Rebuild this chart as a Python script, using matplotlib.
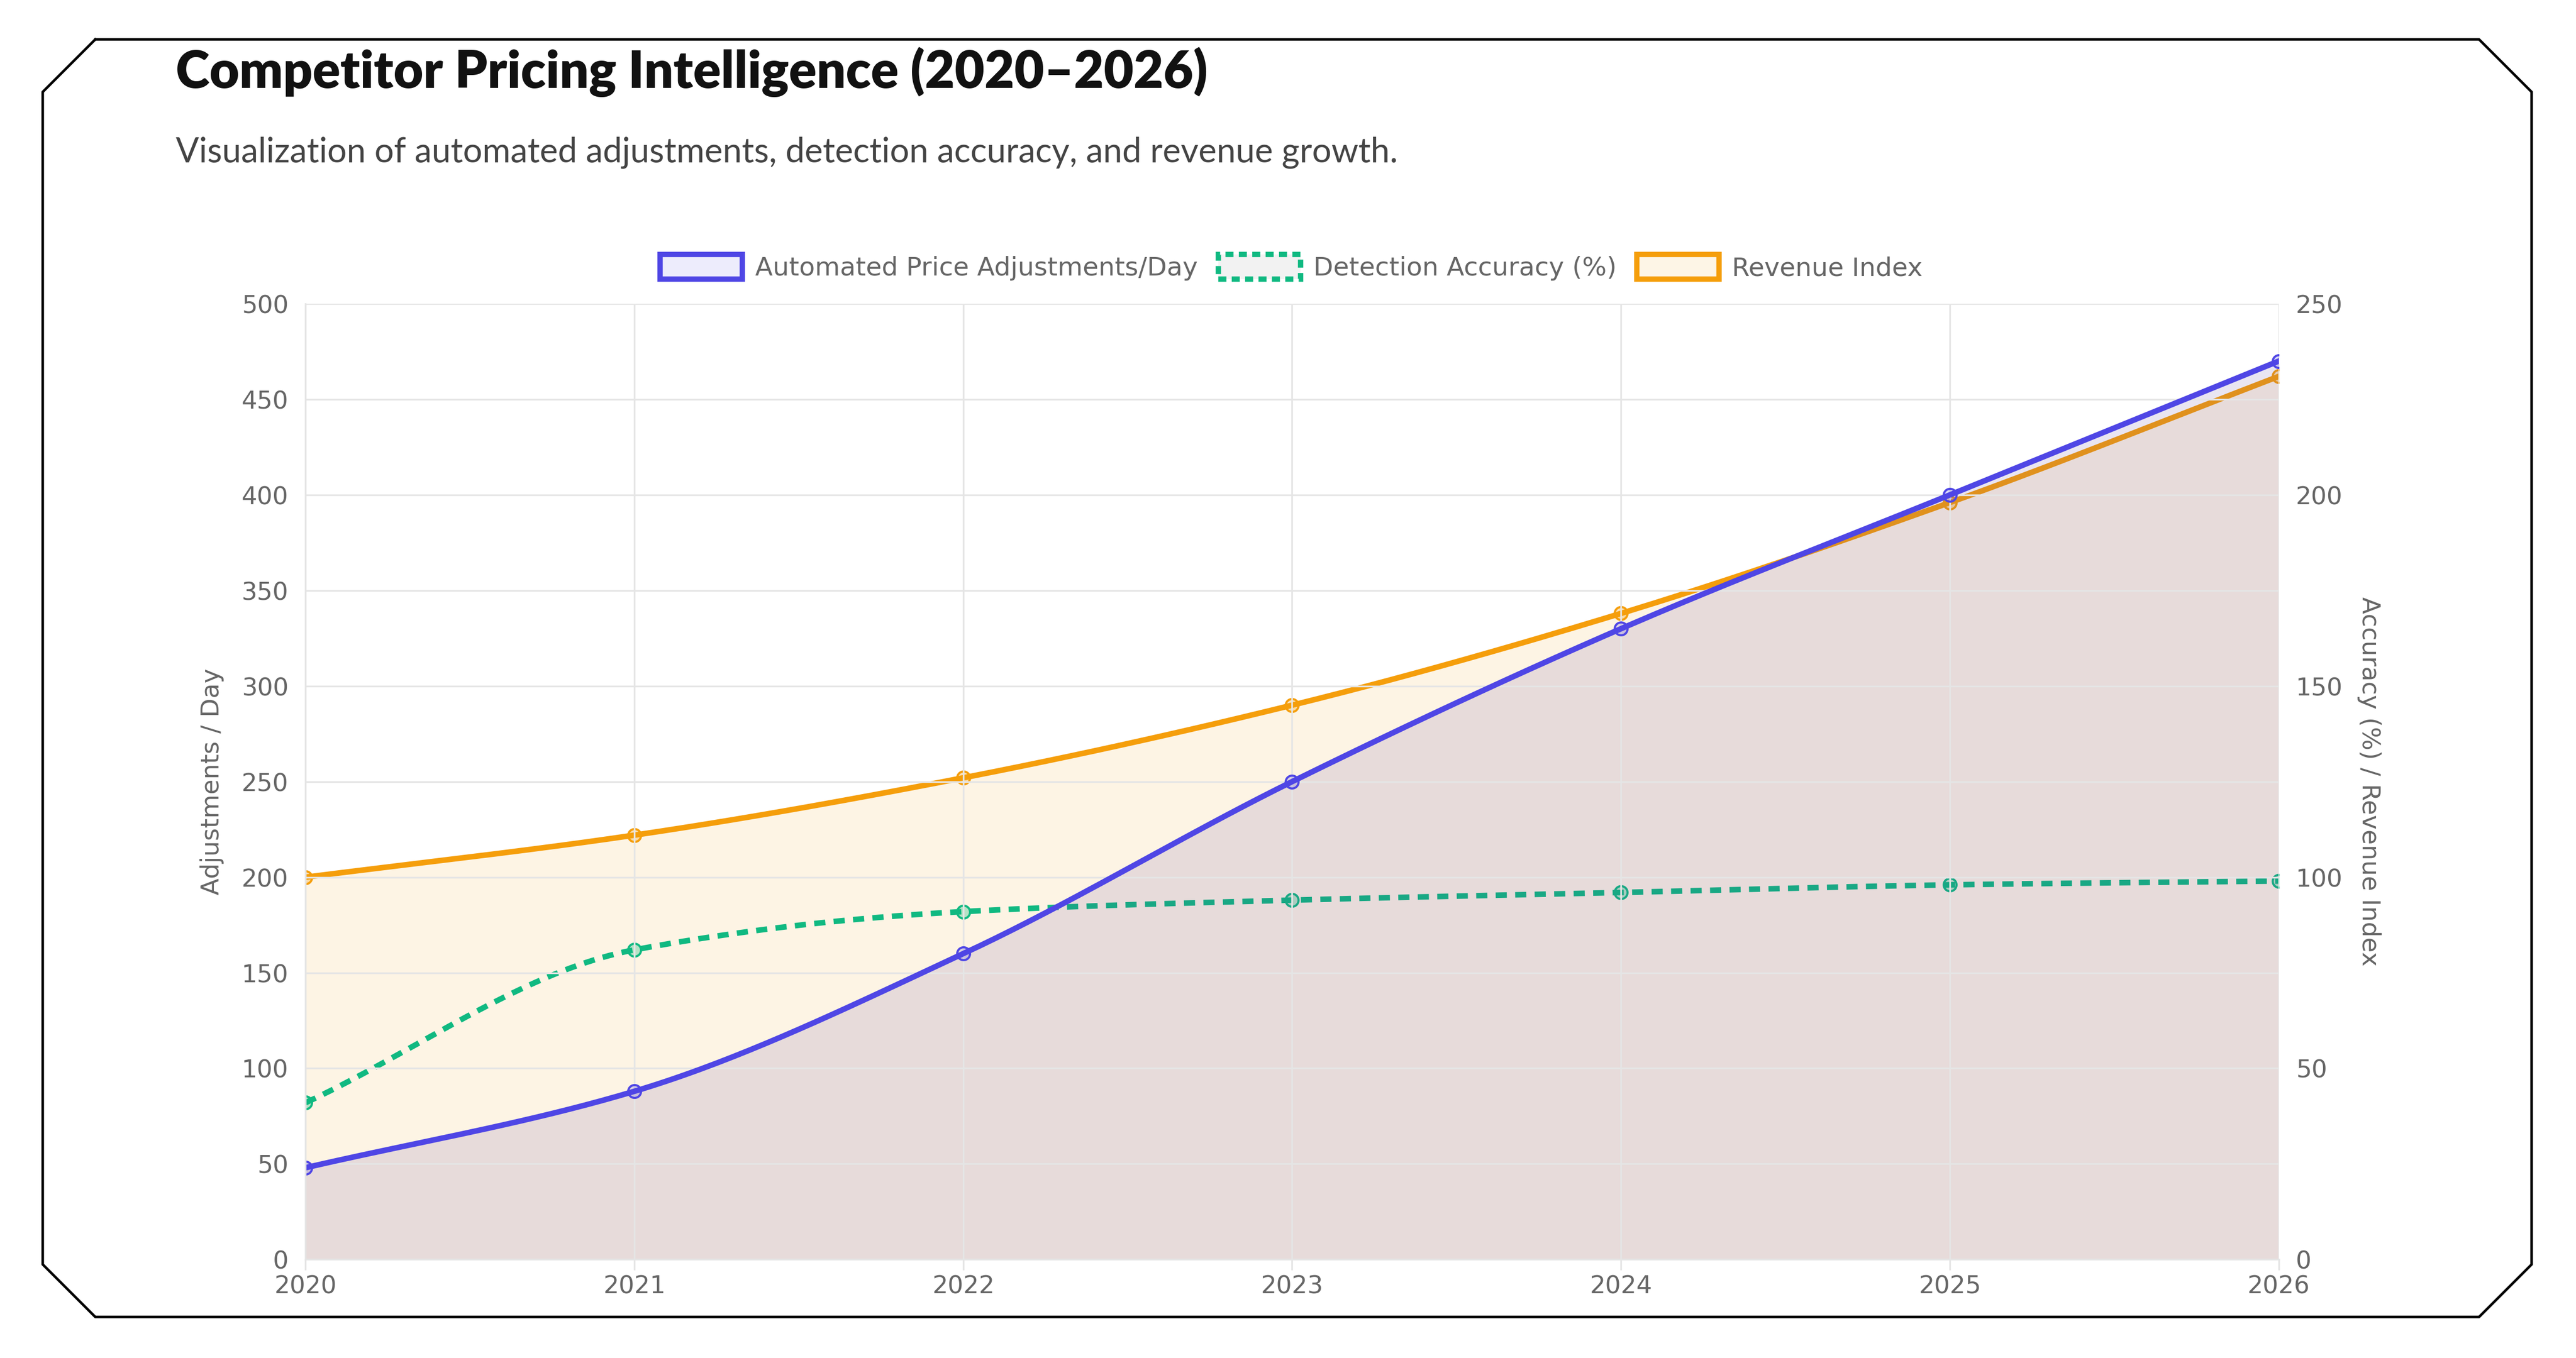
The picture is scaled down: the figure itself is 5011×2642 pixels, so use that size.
import numpy as np
import matplotlib.pyplot as plt
from matplotlib.lines import Line2D
from matplotlib.patches import Patch

years = [2020, 2021, 2022, 2023, 2024, 2025, 2026]
adjustments = [48, 88, 160, 250, 330, 400, 470]
accuracy = [41, 81, 91, 94, 96, 98, 99]
revenue = [100, 111, 126, 145, 169, 198, 231]

W, H = 1568.0, 827.0


def smooth(xs, ys, n=40):
    # monotone cubic (Fritsch-Carlson) for drawing only
    xs = np.asarray(xs, float)
    ys = np.asarray(ys, float)
    h = np.diff(xs)
    d = np.diff(ys) / h
    m = np.zeros_like(ys)
    m[0], m[-1] = d[0], d[-1]
    for i in range(1, len(ys) - 1):
        m[i] = 0 if d[i - 1] * d[i] <= 0 else 2 / (1 / d[i - 1] + 1 / d[i])
    outx, outy = [], []
    for i in range(len(h)):
        t = np.linspace(0, 1, n, endpoint=(i == len(h) - 1))
        h00 = 2 * t**3 - 3 * t**2 + 1
        h10 = t**3 - 2 * t**2 + t
        h01 = -2 * t**3 + 3 * t**2
        h11 = t**3 - t**2
        outx.extend(xs[i] + t * h[i])
        outy.extend(h00 * ys[i] + h10 * h[i] * m[i] + h01 * ys[i + 1] + h11 * h[i] * m[i + 1])
    return np.array(outx), np.array(outy)


fig = plt.figure(figsize=(5011 / 300, 2642 / 300), dpi=300)

# octagonal frame
c = 32
x0, x1, y0, y1 = 26, 1541, 24, 802
pts = [(x0 + c, y0), (x1 - c, y0), (x1, y0 + c), (x1, y1 - c), (x1 - c, y1),
       (x0 + c, y1), (x0, y1 - c), (x0, y0 + c), (x0 + c, y0)]
fig.add_artist(Line2D([p[0] / W for p in pts], [1 - p[1] / H for p in pts],
                      color='black', lw=1.2, transform=fig.transFigure))

fig.text(107 / W, 1 - 44 / H, 'Competitor Pricing Intelligence (2020–2026)',
         fontsize=24, fontweight='heavy', color='#111111', va='center', family='Lato')
fig.text(107 / W, 1 - 93 / H, 'Visualization of automated adjustments, detection accuracy, and revenue growth.',
         fontsize=16, color='#444444', va='center', family='Lato')

ax = fig.add_axes([186 / W, 1 - 767 / H, (1387 - 186) / W, (767 - 185) / H])
ax2 = ax.twinx()

purple = '#4f46e5'
green = '#10b981'
orange = '#f59e0b'

sx, sr = smooth(years, revenue)
ax2.fill_between(sx, 0, sr, color=orange, alpha=0.11, lw=0)
ax2.plot(sx, sr, color=orange, lw=2.6)
ax2.plot(years, revenue, 'o', ms=6, mfc=(0.96, 0.62, 0.04, 0.3), mec=orange, mew=1)

sx, sa = smooth(years, accuracy)
ax2.plot(sx, sa, color=green, lw=2.6, ls=(0, (2, 1.5)))
ax2.plot(years, accuracy, 'o', ms=6, mfc=(0.06, 0.73, 0.5, 0.3), mec=green, mew=1)

sx, sj = smooth(years, adjustments)
ax.fill_between(sx, 0, sj, color='#5a3a9a', alpha=0.13, lw=0)
ax.set_zorder(ax2.get_zorder() + 1)
ax.patch.set_visible(False)
ax.plot(sx, sj, color=purple, lw=2.6)
ax.plot(years, adjustments, 'o', ms=6, mfc=(0.31, 0.27, 0.9, 0.2), mec=purple, mew=1)

ax.set_xlim(2020, 2026)
ax.set_ylim(0, 500)
ax2.set_ylim(0, 250)
ax.set_xticks(years)
ax.set_yticks(range(0, 501, 50))
ax2.set_yticks(range(0, 251, 50))
ax.grid(True, color='#e5e5e5', lw=0.8)
for a in (ax, ax2):
    for s in a.spines.values():
        s.set_visible(False)
    a.tick_params(length=0, labelsize=11.5, colors='#666666', pad=8)
ax.spines['left'].set_visible(True)
ax.spines['left'].set_color('#e5e5e5')
ax.spines['bottom'].set_visible(True)
ax.spines['bottom'].set_color('#e5e5e5')
ax.tick_params(axis='x', length=5, color='#e5e5e5', pad=2)
ax.set_ylabel('Adjustments / Day', fontsize=11.5, color='#666666', labelpad=8)
ax2.set_ylabel('Accuracy (%) / Revenue Index', fontsize=11.5, color='#666666', rotation=270, labelpad=18)

handles = [Patch(facecolor=(0.31, 0.27, 0.9, 0.1), edgecolor=purple, lw=2.5),
           Patch(facecolor=(0.5, 0.5, 0.5, 0.1), edgecolor=green, lw=2.5, ls=(0, (1.5, 1))),
           Patch(facecolor=(0.96, 0.62, 0.04, 0.1), edgecolor=orange, lw=2.5)]
fig.legend(handles, ['Automated Price Adjustments/Day', 'Detection Accuracy (%)', 'Revenue Index'],
           loc='center', bbox_to_anchor=(786 / W, 1 - 163 / H), ncol=3, frameon=False,
           fontsize=12, labelcolor='#666666', handlelength=3.2, handleheight=1.1,
           columnspacing=0.8, handletextpad=0.5)

fig.savefig('out.png', dpi=300, facecolor='white')
